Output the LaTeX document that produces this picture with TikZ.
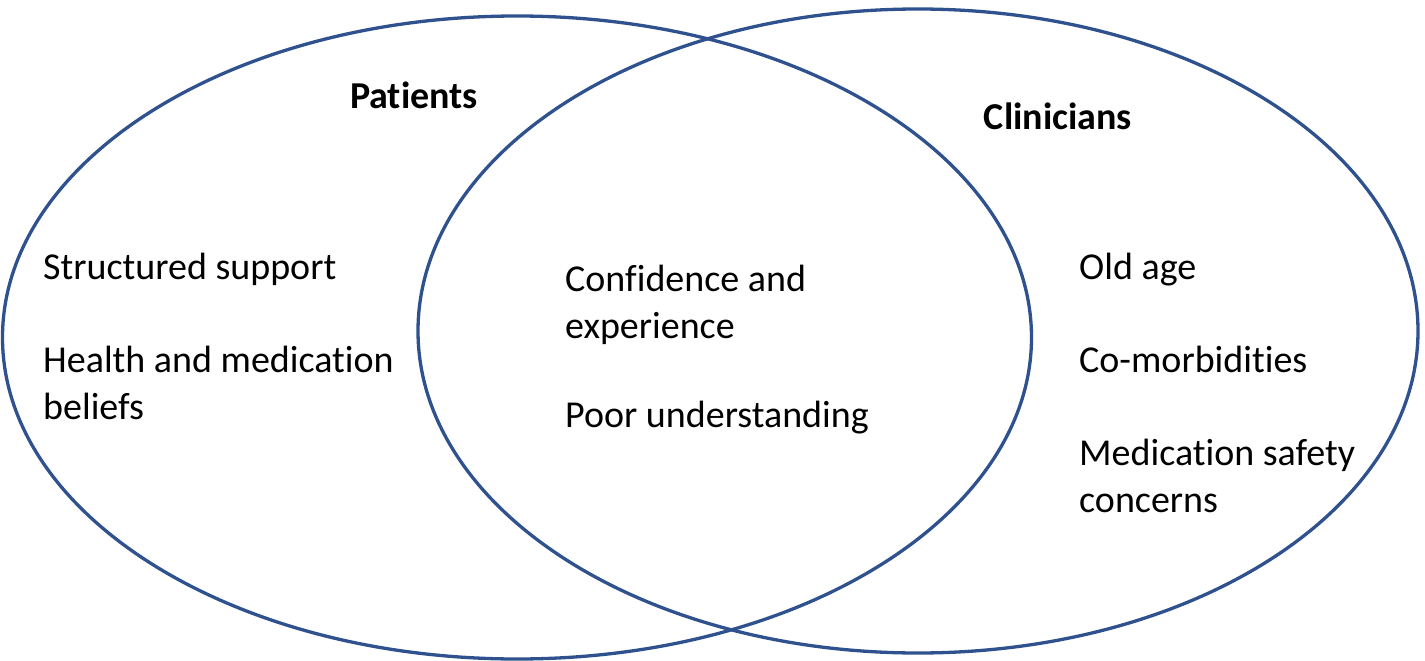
\documentclass[tikz,border=0pt]{standalone}
\usepackage{fontspec}
\setmainfont{Carlito}[Ligatures={NoCommon}]
\definecolor{setblue}{RGB}{47,82,143}
\begin{document}
\begin{tikzpicture}[x=1pt,y=-1pt,
  setline/.style={draw=setblue,line width=3.3pt},
  item/.style={anchor=base west,inner sep=0pt,font=\fontsize{38}{47}\selectfont},
  title/.style={anchor=base,inner sep=0pt,font=\fontsize{38}{47}\selectfont\bfseries}]
\useasboundingbox (0,0) rectangle (1425,661);
\fill[white] (0,0) rectangle (1425,661);
\draw[setline] (517,337.5) ellipse [x radius=514.5pt, y radius=321.5pt];
\draw[setline] (918,331) ellipse [x radius=500pt, y radius=322pt];
\node[title] (patients) at (414,108) {Patients};
\node[title] (clinicians) at (1058,129) {Clinicians};
\node[item] (p1) at (43,279) {Structured support};
\node[item] (p2a) at (43,372) {Health and medication};
\node[item] (p2b) at (43,419) {beliefs};
\node[item] (b1a) at (565,291) {Confidence and};
\node[item] (b1b) at (565,338) {experience};
\node[item] (b2) at (565,427) {Poor understanding};
\node[item] (c1) at (1079,279) {Old age};
\node[item] (c2) at (1079,372) {Co-morbidities};
\node[item] (c3a) at (1079,465) {Medication safety};
\node[item] (c3b) at (1079,512) {concerns};
\end{tikzpicture}
\end{document}
